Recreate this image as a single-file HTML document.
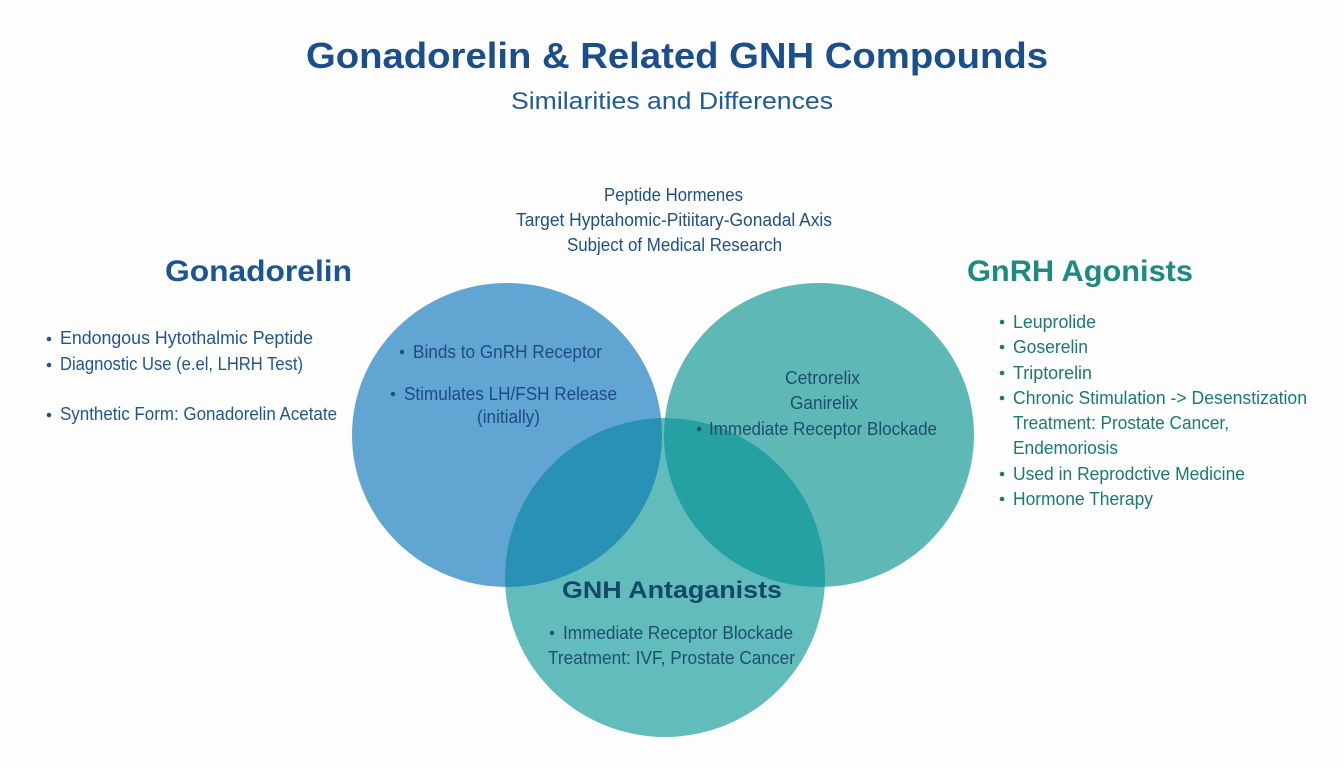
<!DOCTYPE html>
<html>
<head>
<meta charset="utf-8">
<style>
  html,body{margin:0;padding:0;background:#fdfdfd;}
  svg{display:block;}
  text{font-family:"Liberation Sans", "DejaVu Sans", sans-serif;}
</style>
</head>
<body>
<svg width="1344" height="768" viewBox="0 0 1344 768" xmlns="http://www.w3.org/2000/svg">
  <defs>
    <clipPath id="cl"><ellipse cx="507" cy="435" rx="155" ry="152"/></clipPath>
    <clipPath id="cr"><ellipse cx="819" cy="435" rx="155" ry="152"/></clipPath>
  </defs>
  <rect width="1344" height="768" fill="#fdfdfd"/>

  <!-- circles -->
  <ellipse cx="507" cy="435" rx="155" ry="152" fill="#61a5d3"/>
  <ellipse cx="819" cy="435" rx="155" ry="152" fill="#5eb8b6"/>
  <ellipse cx="665" cy="577.5" rx="160" ry="159.5" fill="#62bcbc"/>
  <ellipse cx="665" cy="577.5" rx="160" ry="159.5" fill="#2990b6" clip-path="url(#cl)"/>
  <ellipse cx="665" cy="577.5" rx="160" ry="159.5" fill="#26a1a3" clip-path="url(#cr)"/>

  <!-- title -->
  <text x="306" y="68" font-size="36" font-weight="bold" fill="#1a4e8c" textLength="742" lengthAdjust="spacingAndGlyphs">Gonadorelin &amp; Related GNH Compounds</text>
  <text x="511" y="109" font-size="24" fill="#1f5b96" textLength="322" lengthAdjust="spacingAndGlyphs">Similarities and Differences</text>

  <!-- common -->
  <text x="604" y="201" font-size="18" fill="#1e4f8a" textLength="139" lengthAdjust="spacingAndGlyphs">Peptide Hormenes</text>
  <text x="516" y="226" font-size="18" fill="#1e4f8a" textLength="316" lengthAdjust="spacingAndGlyphs">Target Hyptahomic-Pitiitary-Gonadal Axis</text>
  <text x="567" y="251" font-size="18" fill="#1e4f8a" textLength="215" lengthAdjust="spacingAndGlyphs">Subject of Medical Research</text>

  <!-- Gonadorelin -->
  <text x="165" y="281" font-size="30" font-weight="bold" fill="#1b5593" textLength="187" lengthAdjust="spacingAndGlyphs">Gonadorelin</text>
  <g fill="#1f5596" font-size="18">
    <circle cx="49" cy="339" r="2.3"/>
    <text x="60" y="344" textLength="253" lengthAdjust="spacingAndGlyphs">Endongous Hytothalmic Peptide</text>
    <circle cx="49" cy="365" r="2.3"/>
    <text x="60" y="370" textLength="243" lengthAdjust="spacingAndGlyphs">Diagnostic Use (e.el, LHRH Test)</text>
    <circle cx="49" cy="415" r="2.3"/>
    <text x="60" y="420" textLength="277" lengthAdjust="spacingAndGlyphs">Synthetic Form: Gonadorelin Acetate</text>
  </g>

  <!-- GnRH Agonists -->
  <text x="967" y="281" font-size="30" font-weight="bold" fill="#1b8a80" textLength="226" lengthAdjust="spacingAndGlyphs">GnRH Agonists</text>
  <g fill="#1a7a72" font-size="18">
    <circle cx="1002" cy="322" r="2.3"/>
    <text x="1013" y="328" textLength="83" lengthAdjust="spacingAndGlyphs">Leuprolide</text>
    <circle cx="1002" cy="347" r="2.3"/>
    <text x="1013" y="353" textLength="75" lengthAdjust="spacingAndGlyphs">Goserelin</text>
    <circle cx="1002" cy="373" r="2.3"/>
    <text x="1013" y="379" textLength="79" lengthAdjust="spacingAndGlyphs">Triptorelin</text>
    <circle cx="1002" cy="398" r="2.3"/>
    <text x="1013" y="404" textLength="294" lengthAdjust="spacingAndGlyphs">Chronic Stimulation -&gt; Desenstization</text>
    <text x="1013" y="429" textLength="216" lengthAdjust="spacingAndGlyphs">Treatment: Prostate Cancer,</text>
    <text x="1013" y="454" textLength="105" lengthAdjust="spacingAndGlyphs">Endemoriosis</text>
    <circle cx="1002" cy="474" r="2.3"/>
    <text x="1013" y="480" textLength="232" lengthAdjust="spacingAndGlyphs">Used in Reprodctive Medicine</text>
    <circle cx="1002" cy="499" r="2.3"/>
    <text x="1013" y="505" textLength="140" lengthAdjust="spacingAndGlyphs">Hormone Therapy</text>
  </g>

  <!-- left circle text -->
  <g fill="#1d4b85" font-size="18">
    <circle cx="402" cy="352" r="2.2"/>
    <text x="413" y="358" textLength="189" lengthAdjust="spacingAndGlyphs">Binds to GnRH Receptor</text>
    <circle cx="393" cy="394" r="2.2"/>
    <text x="404" y="400" textLength="213" lengthAdjust="spacingAndGlyphs">Stimulates LH/FSH Release</text>
    <text x="477" y="423" textLength="63" lengthAdjust="spacingAndGlyphs">(initially)</text>
  </g>

  <!-- right circle text -->
  <g fill="#1f4d6c" font-size="18">
    <text x="785" y="384" textLength="75" lengthAdjust="spacingAndGlyphs">Cetrorelix</text>
    <text x="790" y="409" textLength="68" lengthAdjust="spacingAndGlyphs">Ganirelix</text>
    <circle cx="699" cy="429" r="2.2"/>
    <text x="709" y="435" textLength="228" lengthAdjust="spacingAndGlyphs">Immediate Receptor Blockade</text>
  </g>

  <!-- bottom circle text -->
  <text x="562" y="598" font-size="24" font-weight="bold" fill="#144866" textLength="220" lengthAdjust="spacingAndGlyphs">GNH Antaganists</text>
  <g fill="#1e4f6e" font-size="18">
    <circle cx="552" cy="633" r="2.2"/>
    <text x="563" y="639" textLength="230" lengthAdjust="spacingAndGlyphs">Immediate Receptor Blockade</text>
    <text x="548" y="664" textLength="247" lengthAdjust="spacingAndGlyphs">Treatment: IVF, Prostate Cancer</text>
  </g>
</svg>
</body>
</html>
